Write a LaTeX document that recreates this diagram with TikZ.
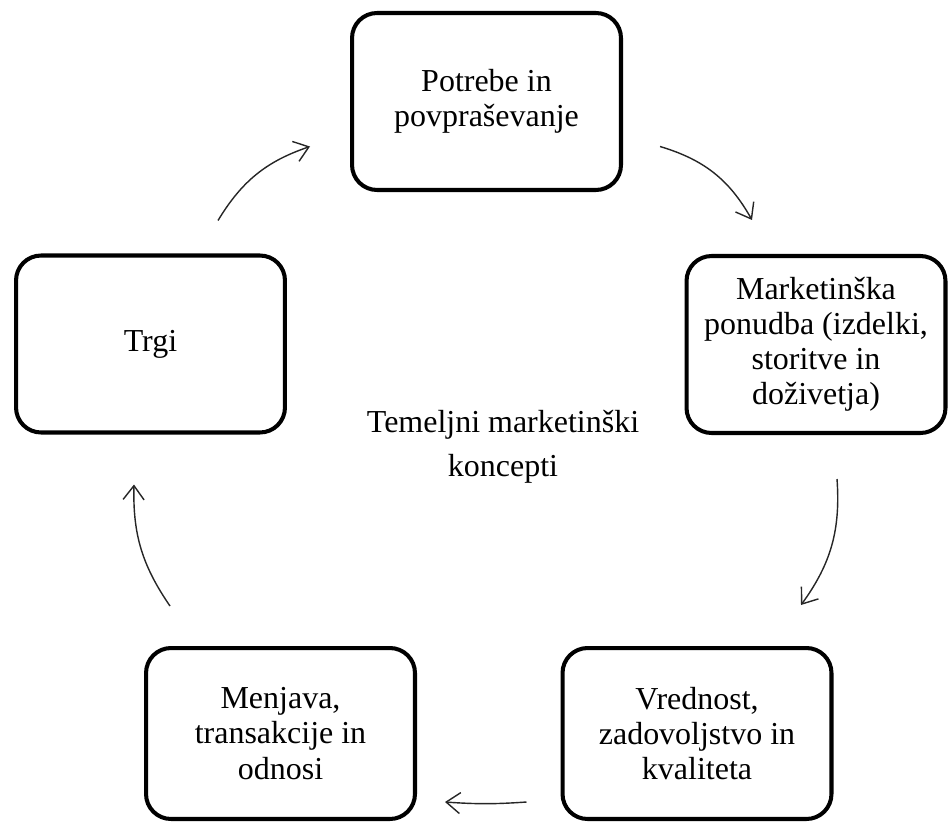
\documentclass[tikz,border=0pt]{standalone}
\usepackage{fontspec}
\setmainfont{Liberation Serif}
\usetikzlibrary{arrows.meta,positioning}

\begin{document}
\begin{tikzpicture}[x=0.02cm, y=-0.02cm,
    box/.style={draw, line width=2.3pt, rounded corners=0.5cm, minimum width=5.38cm, minimum height=3.54cm, align=center, font=\fontsize{18.2}{20}\selectfont},
    cyc/.style={-{Straight Barb[length=0.28cm, width=0.42cm]}, line width=0.8pt, black!85}]%
    \useasboundingbox (0,0) rectangle (949,824);

    \node[box] (needs) at (486.5, 101.5) {Potrebe in\\povpraševanje};
    \node[box, minimum width=5.18cm] (offer) at (816, 344.5) {Marketinška\\ponudba (izdelki,\\storitve in\\doživetja)};
    \node[box, minimum height=3.42cm] (value) at (697, 733.5) {Vrednost,\\zadovoljstvo in\\kvaliteta};
    \node[box, minimum height=3.42cm] (exch) at (280.5, 733.5) {Menjava,\\transakcije in\\odnosi};
    \node[box] (markets) at (150.5, 344) {Trgi};
    \node[align=center, font=\fontsize{18.2}{25}\selectfont] (core) at (503, 447) {Temeljni marketinški\\koncepti};

    \path[cyc]
    ([shift={(37,45)}]needs.east) edge[bend left=22] ([shift={(-64,-34)}]offer.north)
    ([shift={(21,44)}]offer.south) edge[bend left=20] ([shift={(104,-41)}]value.north)
    ([shift={(-34,68.5)}]value.west) edge[bend left=4] ([shift={(28,68.5)}]exch.east)
    ([shift={(-110.5,-40)}]exch.north) edge[bend left=18] ([shift={(-16.5,50)}]markets.south)
    ([shift={(67.5,-33)}]markets.north) edge[bend left=20] ([shift={(-40,45)}]needs.west);
\end{tikzpicture}
\end{document}
